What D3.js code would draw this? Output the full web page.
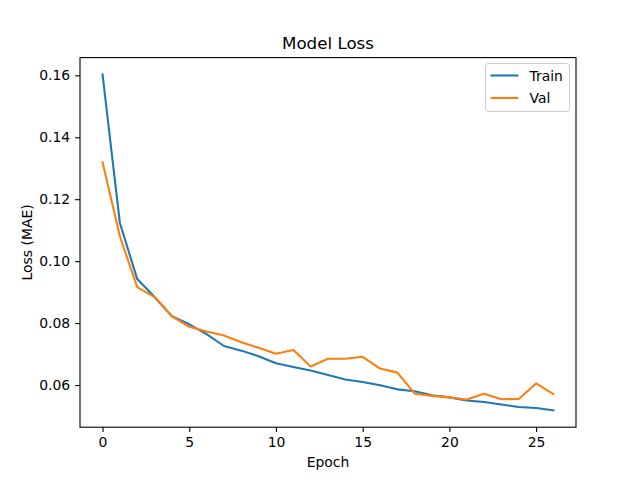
<!DOCTYPE html>
<html lang="en">
  <head>
    <meta charset="utf-8">
    <title>Model Loss</title>
    <style>
      body { margin: 0; background: #fff; }
      svg { display: block; font-family: "DejaVu Sans", sans-serif; }
      .tick text { font-size: 13.9px; fill: #000; }
    </style>
  </head>
  <body>
    <svg id="chart" width="640" height="480"></svg>
    <script src="https://d3js.org/d3.v7.min.js"></script>
    <script>
      const epochs = d3.range(0, 27);
      const trainLoss = [0.1603, 0.1123, 0.0942, 0.0884, 0.0822, 0.0796, 0.0764, 0.0726, 0.0711, 0.0693,
                         0.0670, 0.0658, 0.0647, 0.0632, 0.0618, 0.0610, 0.0599, 0.0586, 0.0580, 0.0567,
                         0.0560, 0.0550, 0.0545, 0.0537, 0.0529, 0.0526, 0.0518];
      const valLoss = [0.1319, 0.1080, 0.0916, 0.0884, 0.0822, 0.0788, 0.0773, 0.0760, 0.0738, 0.0720,
                       0.0701, 0.0713, 0.0660, 0.0685, 0.0685, 0.0691, 0.0653, 0.0640, 0.0572, 0.0565,
                       0.0560, 0.0553, 0.0572, 0.0554, 0.0555, 0.0605, 0.0571];
      const xTicks = [0, 5, 10, 15, 20, 25];
      const yTicks = [0.06, 0.08, 0.10, 0.12, 0.14, 0.16];
      const series = [
        {name: "Train", values: trainLoss, color: "#1f77b4"},
        {name: "Val", values: valLoss, color: "#ff7f0e"}
      ];

      const svg = d3.select("#chart");
      const margin = {top: 57.6, right: 64, bottom: 52.8, left: 80},
            width = 640 - margin.left - margin.right,
            height = 480 - margin.top - margin.bottom;

      const g = svg.append("g").attr("transform", `translate(${margin.left},${margin.top})`);

      // matplotlib style 5% padding
      const allVals = trainLoss.concat(valLoss);
      const yMin = d3.min(allVals), yMax = d3.max(allVals);
      const yPad = (yMax - yMin) * 0.05;
      const x = d3.scaleLinear().domain([-1.3, 27.3]).range([0, width]);
      const y = d3.scaleLinear().domain([yMin - yPad, yMax + yPad]).range([height, 0]);

      const xAxis = d3.axisBottom(x).tickValues(xTicks).tickFormat(d3.format("d")).tickSize(4.9).tickPadding(4.9);
      const yAxis = d3.axisLeft(y).tickValues(yTicks).tickFormat(d3.format(".2f")).tickSize(4.9).tickPadding(4.9);

      const gx = g.append("g").attr("transform", `translate(0,${height})`).call(xAxis);
      const gy = g.append("g").call(yAxis);
      [gx, gy].forEach(a => {
        a.select(".domain").remove();
        a.selectAll(".tick line").attr("stroke", "#000").attr("stroke-width", 1.1);
        a.selectAll(".tick text").attr("font-family", "DejaVu Sans");
      });

      const line = d3.line().x((d, i) => x(epochs[i])).y(d => y(d));
      series.forEach(s => {
        g.append("path").datum(s.values)
          .attr("fill", "none")
          .attr("stroke", s.color)
          .attr("stroke-width", 2.08)
          .attr("stroke-linejoin", "round")
          .attr("stroke-linecap", "square")
          .attr("d", line);
      });

      g.append("rect").attr("width", width).attr("height", height)
        .attr("fill", "none").attr("stroke", "#000").attr("stroke-width", 1.1);

      svg.append("text").attr("x", margin.left + width / 2).attr("y", 49)
        .attr("text-anchor", "middle").attr("font-size", 16.7).text("Model Loss");
      svg.append("text").attr("x", margin.left + width / 2).attr("y", 467)
        .attr("text-anchor", "middle").attr("font-size", 13.9).text("Epoch");
      svg.append("text").attr("transform", `translate(32,${margin.top + height / 2}) rotate(-90)`)
        .attr("text-anchor", "middle").attr("font-size", 13.9).text("Loss (MAE)");

      // legend
      const lg = svg.append("g").attr("transform", "translate(485.5,63.5)");
      lg.append("rect").attr("width", 84).attr("height", 48).attr("rx", 3)
        .attr("fill", "#fff").attr("fill-opacity", 0.8).attr("stroke", "#ccc").attr("stroke-width", 1);
      series.forEach((s, i) => {
        const yy = 12 + i * 22.5;
        lg.append("line").attr("x1", 5).attr("x2", 33).attr("y1", yy).attr("y2", yy)
          .attr("stroke", s.color).attr("stroke-width", 2.08);
        lg.append("text").attr("x", 44).attr("y", yy + 5).attr("font-size", 13.9).text(s.name);
      });
    </script>
  </body>
</html>
